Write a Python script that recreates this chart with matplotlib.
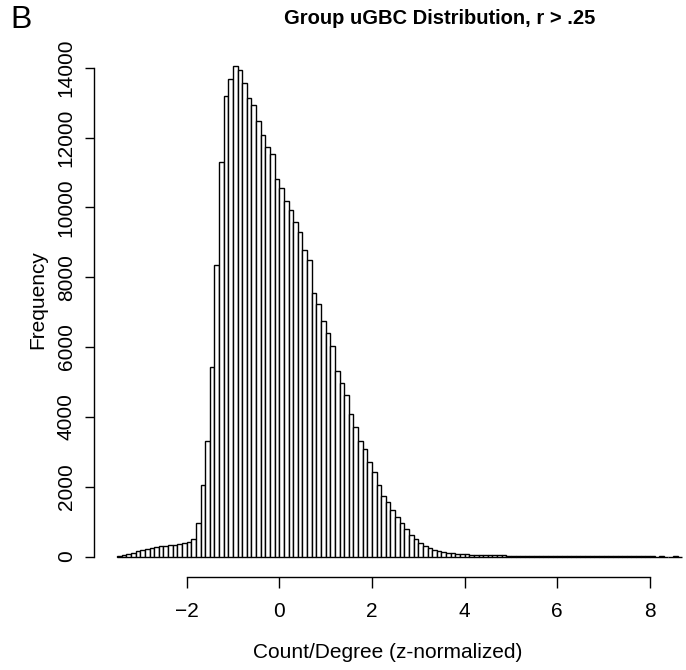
import numpy as np
import matplotlib.pyplot as plt

plt.rcParams['font.family'] = ['Liberation Sans', 'DejaVu Sans']

# histogram: bin width 0.1, first bin starts at -3.5
bin_start = -3.5
bin_width = 0.1
counts = [
    15, 30, 60, 100, 150, 180, 210, 230, 280, 290,          # -3.5 .. -2.6
    310, 330, 320, 370, 380, 410, 500, 970, 2050, 3300,     # -2.5 .. -1.6
    5420, 8340, 11300, 13180, 13680, 14050, 13940, 13560, 13130, 12920,  # -1.5 .. -0.6
    12470, 12060, 11720, 11530, 10810, 10550, 10190, 9930, 9570, 9280,   # -0.5 .. 0.4
    8770, 8480, 7550, 7220, 6740, 6400, 6040, 5320, 4970, 4620,          # 0.5 .. 1.4
    4090, 3720, 3310, 3070, 2720, 2430, 2050, 1740, 1560, 1330,          # 1.5 .. 2.4
    1135, 970, 780, 626, 494, 388, 302, 244, 195, 167,                   # 2.5 .. 3.4
    130, 110, 92, 72, 63, 60, 55, 50, 45, 40,                            # 3.5 .. 4.4
    38, 35, 32, 30, 28, 25, 22, 20, 18, 16,                              # 4.5 .. 5.4
    15, 14, 12, 12, 10, 10, 9, 8, 7, 6,                                  # 5.5 .. 6.4
    6, 5, 5, 4, 4, 3, 3, 3, 2, 2,                                        # 6.5 .. 7.4
    2, 1, 1, 1, 1, 1, 0, 1, 0, 0, 1, 0,                                  # 7.5 .. 8.6
]
x_ticks = [-2, 0, 2, 4, 6, 8]
y_ticks = [0, 2000, 4000, 6000, 8000, 10000, 12000, 14000]

edges = bin_start + bin_width * np.arange(len(counts))

W, H = 686, 670
fig = plt.figure(figsize=(W / 100, H / 100), dpi=100)
# plot region in pixels (left, top, right, bottom); right edge runs past the crop
L, T, R, B = 94.5, 24, 705, 577
ax = fig.add_axes([L / W, 1 - B / H, (R - L) / W, (B - T) / H])

ax.bar(edges, counts, width=bin_width, align='edge', facecolor='white',
       edgecolor='black', linewidth=1.0)

ax.set_xlim(-3.988, 9.188)
ax.set_ylim(-587, 15251)

for s in ['top', 'right']:
    ax.spines[s].set_visible(False)
ax.spines['left'].set_bounds(0, 14000)
ax.spines['bottom'].set_bounds(-2, 8)
ax.spines['left'].set_linewidth(1.0)
ax.spines['bottom'].set_linewidth(1.0)

ax.set_xticks(x_ticks)
ax.set_xticklabels([str(v).replace('-', '\u2212') for v in x_ticks])
ax.set_yticks(y_ticks)
ax.set_yticklabels([str(v) for v in y_ticks], rotation=90, va='center')
ax.tick_params(axis='x', length=8, width=1.0, pad=10, labelsize=15)
ax.tick_params(axis='y', length=6.5, width=1.0, pad=7, labelsize=15)

fig.text(440 / W, 1 - 18 / H, 'Group uGBC Distribution, r > .25',
         ha='center', va='center', fontsize=14.5, fontweight='bold')
fig.text(388 / W, 1 - 653 / H, 'Count/Degree (z-normalized)',
         ha='center', va='center', fontsize=15)
fig.text(38 / W, 1 - 300 / H, 'Frequency', ha='center', va='center',
         rotation=90, fontsize=15)
fig.text(21 / W, 1 - 20 / H, 'B', ha='center', va='center', fontsize=23)

plt.savefig('out.png', dpi=100)
plt.close()
